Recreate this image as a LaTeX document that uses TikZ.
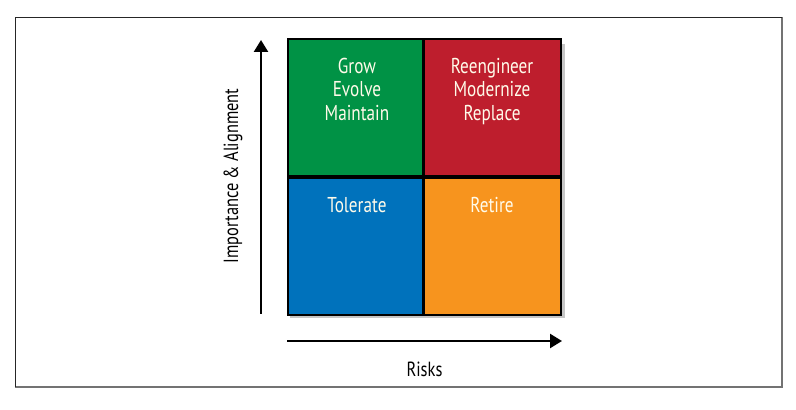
\documentclass[tikz,border=0pt]{standalone}
\usepackage{fontspec}
\setmainfont{PT Sans}[FakeStretch=0.8]
\usetikzlibrary{arrows.meta,shadows}

\definecolor{apmgreen}{HTML}{009245}
\definecolor{apmred}{HTML}{BE1E2D}
\definecolor{apmblue}{HTML}{0072BC}
\definecolor{apmorange}{HTML}{F7941E}
\definecolor{apmtext}{HTML}{FFFBEA}

\newcommand*{\gxmin}{287}
\newcommand*{\gxmid}{424.5}
\newcommand*{\gxmax}{562}
\newcommand*{\gymin}{96}
\newcommand*{\gymid}{233}
\newcommand*{\gymax}{370}

\begin{document}
\begin{tikzpicture}
[
	x=1pt,y=1pt,
	quad/.style={draw=black,line width=2.4pt,inner sep=0pt,minimum width=137.5pt,minimum height=137pt},
	quadtext/.style={anchor=north,align=center,text=apmtext,font=\fontsize{21.5}{23.5}\selectfont,inner sep=0pt},
	axis/.style={line width=2.4pt,-{Triangle[length=12pt,width=14pt]}},
	axislabel/.style={font=\fontsize{20.5}{22}\selectfont}
]
	\useasboundingbox (0,0) rectangle (796,410);

	% frame
	\draw[line width=1.8pt,black!55] (15,23) -- (782,23) -- (782,393);
	\draw[line width=0.9pt,black!85] (782,393) -- (15,393) -- (15,23);

	% shadow behind the grid
	\fill[black,opacity=0.35,drop shadow={shadow xshift=3pt,shadow yshift=-4pt,opacity=0.45}]
		(\gxmin,\gymin) rectangle (\gxmax,\gymax);

	% quadrants
	\node[quad,fill=apmgreen,anchor=south west] (grow) at (\gxmin,\gymid) {};
	\node[quad,fill=apmred,anchor=south east] (reeng) at (\gxmax,\gymid) {};
	\node[quad,fill=apmblue,anchor=north west] (tolerate) at (\gxmin,\gymid) {};
	\node[quad,fill=apmorange,anchor=north east] (retire) at (\gxmax,\gymid) {};

	\node[quadtext] (growtxt) at ([yshift=-20pt]grow.north) {Grow\\Evolve\\Maintain};
	\node[quadtext] (reengtxt) at ([yshift=-20pt]reeng.north) {Reengineer\\Modernize\\Replace};
	\node[quadtext] (toltxt) at ([yshift=-20pt]tolerate.north) {Tolerate};
	\node[quadtext] (rettxt) at ([yshift=-20pt]retire.north) {Retire};

	% axes
	\coordinate (implow) at (261,\gymin);
	\coordinate (imphigh) at (261,370);
	\coordinate (risklow) at (\gxmin,69);
	\coordinate (riskhigh) at (\gxmax,69);
	\draw[axis] (implow) -- (imphigh);
	\draw[axis] (risklow) -- (riskhigh);

	\node[axislabel,rotate=90] (implabel) at (233,234) {Importance \& Alignment};
	\node[axislabel] (risklabel) at (\gxmid,41) {Risks};

\end{tikzpicture}
\end{document}
